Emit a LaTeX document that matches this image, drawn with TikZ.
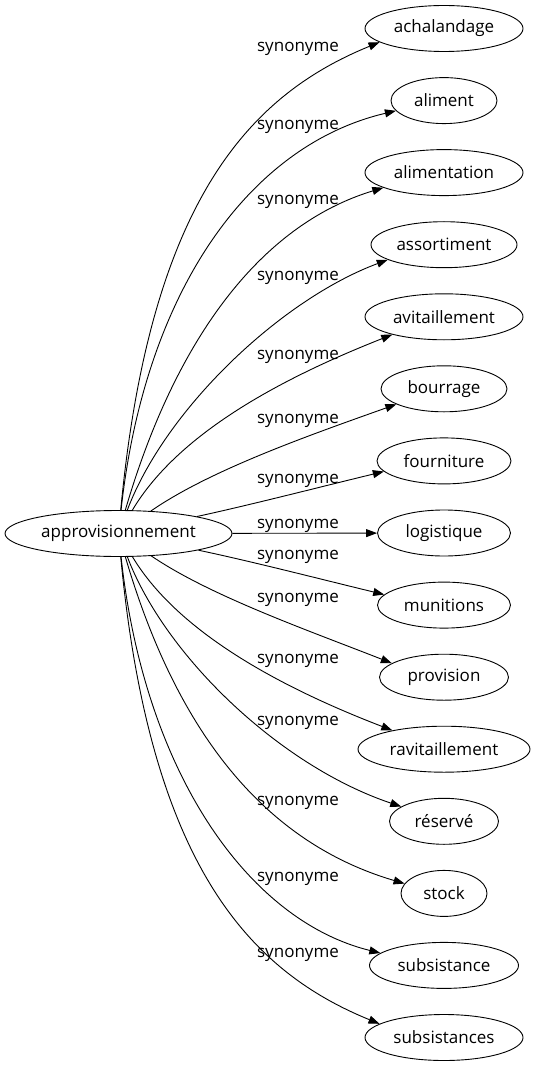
\documentclass[tikz,border=0pt]{standalone}
\usepackage{fontspec}
\setmainfont{Open Sans}
\usetikzlibrary{arrows.meta,shapes.geometric}
\begin{document}
\begin{tikzpicture}[x=1pt,y=-1pt,
  word/.style={ellipse,draw,line width=0.9pt,inner sep=0pt,minimum height=46pt,font=\fontsize{17}{20}\selectfont},
  rel/.style={draw,line width=0.9pt,-{Triangle[length=11pt,width=8pt]}},
  lab/.style={font=\fontsize{17}{20}\selectfont,inner sep=0pt,anchor=base}]
\useasboundingbox (0,0) rectangle (535,1067);
\node[word,minimum width=227pt] (src) at (118.5,533.5) {approvisionnement};
\node[word,minimum width=158pt] (t0) at (444,28.5) {achalandage};
\node[word,minimum width=106pt] (t1) at (444,100.6) {aliment};
\node[word,minimum width=158pt] (t2) at (444,172.6) {alimentation};
\node[word,minimum width=146pt] (t3) at (444,244.7) {assortiment};
\node[word,minimum width=158pt] (t4) at (444,316.8) {avitaillement};
\node[word,minimum width=126pt] (t5) at (444,388.8) {bourrage};
\node[word,minimum width=134pt] (t6) at (444,460.9) {fourniture};
\node[word,minimum width=133pt] (t7) at (444,533) {logistique};
\node[word,minimum width=133pt] (t8) at (444,605.1) {munitions};
\node[word,minimum width=129pt] (t9) at (444,677.2) {provision};
\node[word,minimum width=172pt] (t10) at (444,749.2) {ravitaillement};
\node[word,minimum width=109pt] (t11) at (444,821.3) {réservé};
\node[word,minimum width=86pt] (t12) at (444,893.4) {stock};
\node[word,minimum width=149pt] (t13) at (444,965.4) {subsistance};
\node[word,minimum width=158pt] (t14) at (444,1037.5) {subsistances};
% labels
\node[lab] (l0) at (298,52) {synonyme};
\node[lab] (l1) at (298,130) {synonyme};
\node[lab] (l2) at (298,205) {synonyme};
\node[lab] (l3) at (298,280) {synonyme};
\node[lab] (l4) at (298,359) {synonyme};
\node[lab] (l5) at (298,423) {synonyme};
\node[lab] (l6) at (298,483) {synonyme};
\node[lab] (l7) at (298,528) {synonyme};
\node[lab] (l8) at (298,559) {synonyme};
\node[lab] (l9) at (298,602) {synonyme};
\node[lab] (l10) at (298,663) {synonyme};
\node[lab] (l11) at (298,725) {synonyme};
\node[lab] (l12) at (298,805) {synonyme};
\node[lab] (l13) at (298,881) {synonyme};
\node[lab] (l14) at (298,957) {synonyme};
% edges
\draw[rel] (src) .. controls (150,200) and (250,95) .. (t0.192);
\draw[rel] (src) .. controls (145,290) and (250,145) .. (t1.192);
\draw[rel] (src) .. controls (175,340) and (260,225) .. (t2.194);
\draw[rel] (src) .. controls (165,410) and (280,300) .. (t3.195);
\draw[rel] (src) .. controls (180,430) and (290,375) .. (t4.199);
\draw[rel] (src) .. controls (210,470) and (310,435) .. (t5.198);
\draw[rel] (src) .. controls (250,505) and (320,487) .. (t6.190);
\draw[rel] (src) -- (t7);
\draw[rel] (src) .. controls (250,561) and (320,579) .. (t8.170);
\draw[rel] (src) .. controls (210,596) and (310,631) .. (t9.165);
\draw[rel] (src) .. controls (180,636) and (290,691) .. (t10.160);
\draw[rel] (src) .. controls (165,656) and (280,766) .. (t11.161);
\draw[rel] (src) .. controls (175,726) and (260,841) .. (t12.166);
\draw[rel] (src) .. controls (145,776) and (250,921) .. (t13.169);
\draw[rel] (src) .. controls (150,866) and (250,971) .. (t14.168);
\end{tikzpicture}
\end{document}
